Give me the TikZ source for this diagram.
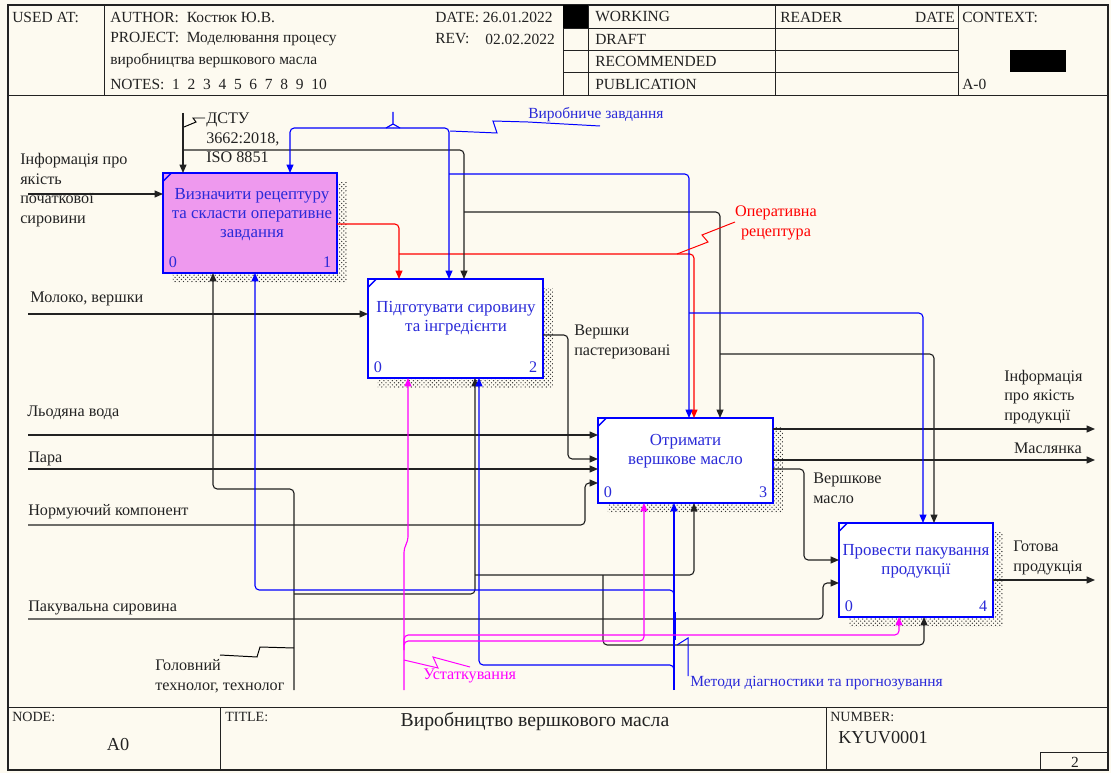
\documentclass[tikz,border=0pt]{standalone}
\usepackage{fontspec}
\setmainfont{Liberation Serif}
\usetikzlibrary{positioning, arrows.meta, patterns, shadows}
\definecolor{idefBlue}{HTML}{0000FF}
\definecolor{idefText}{HTML}{2A2AD8}
\definecolor{idefRed}{HTML}{FF0000}
\definecolor{idefPink}{HTML}{FF00FF}
\definecolor{idefFill}{HTML}{EE99EE}
\definecolor{idefInk}{HTML}{222222}
\definecolor{paperCream}{HTML}{FDFAF0}

\begin{document}
\begin{tikzpicture}[x=0.025cm, y=-0.025cm,
    font=\fontsize{11}{14}\selectfont, text=idefInk,
    frame/.style={draw=idefInk, line width=0.6pt},
    actbox/.style={draw=idefBlue, line width=1.8pt, fill=white, inner sep=0pt, outer sep=0pt,
      general shadow={pattern=crosshatch dots, pattern color=black!80, shadow xshift=7pt, shadow yshift=-7pt}},
    acttext/.style={text=idefText, align=center, inner sep=0pt, font=\fontsize{12}{13.5}\selectfont},
    actnum/.style={text=idefText, inner sep=0pt, font=\fontsize{11.5}{14}\selectfont},
    lbl/.style={inner sep=0pt, align=left, font=\fontsize{11.5}{14}\selectfont},
    hdr/.style={inner sep=0pt, anchor=west},
    arr/.style={draw=idefInk, line width=0.8pt, rounded corners=3pt, -{Triangle[length=6pt,width=5pt]}},
    arrB/.style={arr, draw=idefBlue},
    arrR/.style={arr, draw=idefRed},
    arrP/.style={arr, draw=idefPink},
    squig/.style={line width=0.7pt}]

  % paper and form
  \fill[paperCream] (0,0) rectangle (1111,773);
  \draw[frame, line width=1pt] (8,5) rectangle (1108,770);
  \draw[frame] (8,95) -- (1108,95);
  \draw[frame] (8,707) -- (1108,707);
  \foreach \x in {104,563,588,775,958} \draw[frame] (\x,5) -- (\x,95);
  \foreach \y in {28,50,72} \draw[frame] (563,\y) -- (958,\y);
  \fill[black] (563,5) rectangle (588,28);
  \fill[black] (1010,50) rectangle (1066,72);
  \foreach \x in {220,826} \draw[frame] (\x,707) -- (\x,770);
  \draw[frame] (1040,770) |- (1108,752);

  \node[hdr] (usedAt) at (12,17) {USED AT:};
  \node[hdr] (author) at (110,17) {AUTHOR:\ \ Костюк Ю.В.};
  \node[hdr] (project) at (110,39) {PROJECT:\ \ Моделювання процесу};
  \node[hdr] (projectB) at (110,61) {виробництва вершкового масла};
  \node[hdr] (notes) at (110,84) {NOTES:\ \ 1\ \ 2\ \ 3\ \ 4\ \ 5\ \ 6\ \ 7\ \ 8\ \ 9\ \ 10};
  \node[hdr] (date) at (435,17) {DATE: 26.01.2022};
  \node[hdr] (rev) at (435,39) {REV:};
  \node[hdr] (revDate) at (485,39) {02.02.2022};
  \node[hdr] (stWorking) at (595,17) {WORKING};
  \node[hdr] (stDraft) at (595,39) {DRAFT};
  \node[hdr] (stRecommended) at (595,61) {RECOMMENDED};
  \node[hdr] (stPublication) at (595,84) {PUBLICATION};
  \node[hdr] (reader) at (780,17) {READER};
  \node[hdr, anchor=east] (readerDate) at (955,17) {DATE};
  \node[hdr] (context) at (962,17) {CONTEXT:};
  \node[hdr] (contextNode) at (962,84) {A-0};

  \node[hdr, font=\fontsize{10}{12}\selectfont] (nodeLbl) at (12,717) {NODE:};
  \node[inner sep=0pt, font=\fontsize{13}{15}\selectfont] (nodeVal) at (118,745) {A0};
  \node[hdr, font=\fontsize{10}{12}\selectfont] (titleLbl) at (225,717) {TITLE:};
  \node[inner sep=0pt, font=\fontsize{14}{16}\selectfont] (titleVal) at (535,722) {Виробництво вершкового масла};
  \node[hdr, font=\fontsize{10}{12}\selectfont] (numberLbl) at (830,717) {NUMBER:};
  \node[hdr, font=\fontsize{13}{15}\selectfont] (numberVal) at (838,738) {KYUV0001};
  \node[inner sep=0pt] (pageNo) at (1075,762) {2};

  % activities
  \node[actbox, fill=idefFill, minimum width=4.35cm, minimum height=2.5cm] (b1) at (250,223) {};
  \node[actbox, minimum width=4.375cm, minimum height=2.475cm] (b2) at (455.5,328.5) {};
  \node[actbox, minimum width=4.375cm, minimum height=2.125cm] (b3) at (685.5,460.5) {};
  \node[actbox, minimum width=3.85cm, minimum height=2.35cm] (b4) at (916,570) {};

  \node[acttext] (b1t) at (252,215) {Визначити рецептуру\\та скласти оперативне\\завдання};
  \node[acttext] (b2t) at (456,318.5) {Підготувати сировину\\та інгредієнти};
  \node[acttext] (b3t) at (685.5,451) {Отримати\\вершкове масло};
  \node[acttext] (b4t) at (916,561) {Провести пакування\\продукції};

  \foreach \b/\n in {b1/1,b2/2,b3/3,b4/4} {
    \draw[idefBlue, line width=1pt] ([yshift=-6pt]\b.north west) -- ([xshift=6pt]\b.north west);
    \node[actnum, anchor=south west] (\b-z) at ([shift={(4pt,3.5pt)}]\b.south west) {0};
    \node[actnum, anchor=south east] (\b-n) at ([shift={(-4pt,3.5pt)}]\b.south east) {\n};
  }

  % free ends
  \coordinate (inInfo) at (28,194);
  \coordinate (inMilk) at (28,314);
  \coordinate (inIce) at (28,435);
  \coordinate (inSteam) at (28,469);
  \coordinate (inNorm) at (28,525);
  \coordinate (inPack) at (28,619);
  \coordinate (outInfo) at (1095,429);
  \coordinate (outButtermilk) at (1095,460);
  \coordinate (outProduct) at (1095,580);
  \coordinate (ctlStd) at (183,113);
  \coordinate (ctlTask) at (393,112);
  \coordinate (mechStaff) at (294,690);
  \coordinate (mechEquip) at (404,690);
  \coordinate (mechMethods) at (674,690);

  % inputs and outputs
  \draw[arr] (inInfo) -- (inInfo -| b1.west);
  \draw[arr] (inMilk) -- (inMilk -| b2.west);
  \draw[arr] (inIce) -- (inIce -| b3.west);
  \draw[arr] (inSteam) -- (inSteam -| b3.west);
  \draw[arr] (inNorm) -| (585,483) -- (585,483 -| b3.west);
  \draw[arr] (b2.east |- 0,335) -| (568,459) -- (568,459 -| b3.west);
  \draw[arr] (inPack) -| (823,583) -- (823,583 -| b4.west);
  \draw[arr] (b3.east |- outInfo) -- (outInfo);
  \draw[arr] (b3.east |- outButtermilk) -- (outButtermilk);
  \draw[arr] (b3.east |- 0,469) -| (804,560) -- (804,560 -| b4.west);
  \draw[arr] (b4.east |- outProduct) -- (outProduct);
  \draw[arrR] (b1.east |- 0,224) -| (b2.north -| 399,0);
  \draw[arrR] (399,254) -| (b3.north -| 694,0);

  % controls
  \draw[arr] (ctlStd) -- (ctlStd |- b1.north);
  \draw[arr] (183,150) -| (b2.north -| 464,0);
  \draw[arr] (464,212) -| (b3.north -| 720,0);
  \draw[arr] (720,354) -| (b4.north -| 934,0);
  \draw[idefBlue, line width=0.8pt] (ctlTask) -- (393,124) (386,128) -- (393,124) -- (400,128);
  \draw[arrB] (393,128) -| (b1.north -| 290,0);
  \draw[arrB] (393,128) -| (b2.north -| 449,0);
  \draw[arrB] (449,174) -| (b3.north -| 689,0);
  \draw[arrB] (689,313) -| (b4.north -| 923,0);

  % mechanisms
  \draw[arr] (mechStaff) |- (213,489) -- (b1.south -| 213,0);
  \draw[arr] (294,594) -| (b2.south -| 475,0);
  \draw[arr] (475,575) -| (b3.south -| 694,0);
  \draw[arr] (603,575) |- (924,645) -- (b4.south -| 924,0);
  \draw[arrB] (mechMethods) -- (b3.south -| 674,0);
  \draw[arrB] (674,600) |- (255,590) -- (b1.south -| 255,0);
  \draw[arrB] (674,672) |- (479,665) -- (b2.south -| 479,0);
  \draw[idefBlue, line width=1.6pt] (675,612) -- (675,640);
  \draw[arrP] (mechEquip) -- (404,548) -- (408,541) -- (b2.south -| 408,0);
  \draw[arrP] (404,645) |- (899,635) -- (b4.south -| 899,0);
  \draw[arrP] (404,650) |- (644,641) -- (b3.south -| 644,0);

  % labels
  \node[lbl, anchor=west] (lInfo) at (20,190) {Інформація про\\якість\\початкової\\сировини};
  \node[lbl, anchor=west] (lStd) at (206,138) {ДСТУ\\3662:2018,\\ISO 8851};
  \node[lbl, anchor=west, text=idefText, font=\fontsize{11}{14}\selectfont] (lTask) at (528,115) {Виробниче завдання};
  \node[lbl, align=center, text=idefRed] (lRecipe) at (776,223) {Оперативна\\рецептура};
  \node[lbl, anchor=west] (lMilk) at (30,299) {Молоко, вершки};
  \node[lbl, anchor=west] (lIce) at (27,413) {Льодяна вода};
  \node[lbl, anchor=west] (lSteam) at (28,459) {Пара};
  \node[lbl, anchor=west] (lNorm) at (28,512) {Нормуючий компонент};
  \node[lbl, anchor=west] (lCream) at (574,342) {Вершки\\пастеризовані};
  \node[lbl, anchor=west] (lQuality) at (1004,397) {Інформація\\про якість\\продукції};
  \node[lbl, anchor=east] (lButtermilk) at (1082,448) {Маслянка};
  \node[lbl, anchor=west] (lButter) at (813,488) {Вершкове\\масло};
  \node[lbl, anchor=west] (lProduct) at (1013,558) {Готова\\продукція};
  \node[lbl, anchor=west] (lPack) at (28,608) {Пакувальна сировина};
  \node[lbl, anchor=west] (lStaff) at (155,676) {Головний\\технолог, технолог};
  \node[lbl, anchor=west, text=idefPink] (lEquip) at (423,676) {Устаткування};
  \node[lbl, anchor=west, text=idefText, font=\fontsize{11}{14}\selectfont] (lMethods) at (690,683) {Методи діагностики та прогнозування};

  % label squiggles
  \draw[squig] (184,127) -- (196,122) -- (193,118) -- (205,118);
  \draw[squig, idefBlue] (600,126) -- (528,122) -- (493,121) -- (497,133) -- (450,131);
  \draw[squig, idefRed] (735,222) -- (702,235) -- (708,242) -- (677,254);
  \draw[squig] (294,648) -- (260,647) -- (257,657) -- (220,655);
  \draw[squig, idefPink] (404,660) -- (438,668) -- (433,657) -- (470,667);
  \draw[squig, idefBlue] (688,676) -- (688,638) -- (677,645);
\end{tikzpicture}
\end{document}
